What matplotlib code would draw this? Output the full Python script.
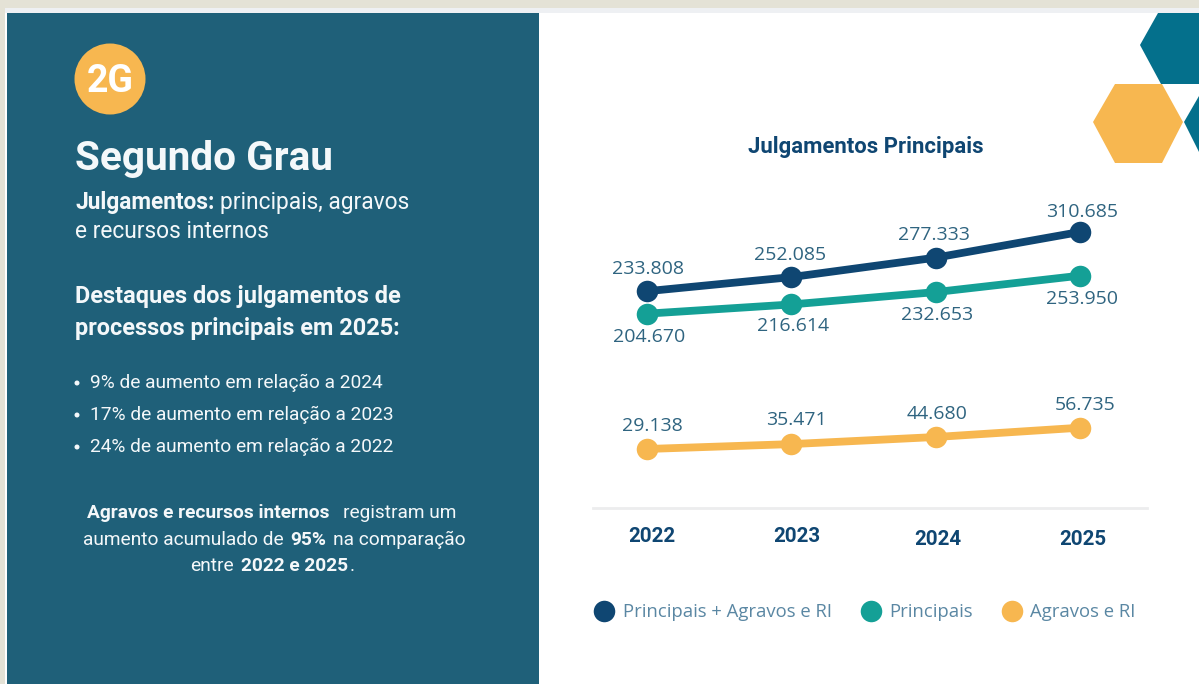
import matplotlib
matplotlib.use("Agg")
import matplotlib.pyplot as plt
from matplotlib.lines import Line2D
from matplotlib.patches import Circle, Polygon, Rectangle
from matplotlib.transforms import ScaledTranslation

# Data
years = [2022, 2023, 2024, 2025]
total = [233808, 252085, 277333, 310685]
principais = [204670, 216614, 232653, 253950]
agravos = [29138, 35471, 44680, 56735]

series_names = ["Principais + Agravos e RI", "Principais", "Agravos e RI"]
chart_title = "Julgamentos Principais"
bullets = [
    "9% de aumento em relação a 2024",
    "17% de aumento em relação a 2023",
    "24% de aumento em relação a 2022",
]

NAVY = "#0F4672"
GREEN = "#14A096"
ORANGE = "#F7B750"
PANEL = "#1F6079"
HEX_TEAL = "#04708C"
BEIGE = "#E4E2D6"
LABEL = "#2F6480"
LEGEND_TEXT = "#5A87A3"
WHITE = "#F4F8FA"

W, H = 1199, 684
plt.rcParams["font.family"] = ["Roboto", "DejaVu Sans"]

fig = plt.figure(figsize=(W / 100, H / 100), dpi=100, facecolor="white")

# Background layer in pixel coordinates, y pointing down
bg = fig.add_axes([0, 0, 1, 1])
bg.set_xlim(0, W)
bg.set_ylim(H, 0)
bg.axis("off")

bg.add_patch(Rectangle((0, 0), W, 8, color=BEIGE, lw=0))
bg.add_patch(Rectangle((0, 0), 5, H, color=BEIGE, lw=0))
bg.add_patch(Rectangle((5, 8), W, 5, color="#EEF0F3", lw=0))
bg.add_patch(Rectangle((7, 13), 532, H - 13, color=PANEL, lw=0))

bg.add_patch(Polygon([(1140, 45), (1158, 13), (1199, 13), (1199, 84), (1161, 84)], color=HEX_TEAL, lw=0))
bg.add_patch(Polygon([(1184, 122), (1199, 96), (1199, 152)], color=HEX_TEAL, lw=0))
bg.add_patch(Polygon([(1093, 122), (1115, 84), (1162, 84), (1183, 122), (1162, 163), (1115, 163)], color=ORANGE, lw=0))

bg.add_patch(Circle((110, 79), 35.5, color=ORANGE, lw=0))
bg.text(110, 81, "2G", color="white", fontsize=27, fontweight="bold", ha="center", va="center")

# Left panel text
bg.text(75, 159, "Segundo Grau", color=WHITE, fontsize=29.2, fontweight="bold", va="center")

bg.text(75, 202, "Julgamentos:", color=WHITE, fontsize=16.3, fontweight="bold", va="center")
bg.text(220, 202, "principais, agravos", color=WHITE, fontsize=16.4, va="center")
bg.text(75, 232, "e recursos internos", color=WHITE, fontsize=16.4, va="center")

bg.text(75, 297, "Destaques dos julgamentos de", color=WHITE, fontsize=16.9, fontweight="bold", va="center")
bg.text(75, 328, "processos principais em 2025:", color=WHITE, fontsize=16.9, fontweight="bold", va="center")

for y_px, line in zip([383, 415, 447], bullets):
    bg.add_patch(Circle((77, y_px), 2.5, color=WHITE, lw=0))
    bg.text(90, y_px, line, color=WHITE, fontsize=13.8, va="center")

para = [
    (513, [(87, "Agravos e recursos internos", "bold"), (343, "registram um", "normal")]),
    (540, [(83, "aumento acumulado de", "normal"), (290, "95%", "bold"), (333, "na comparação", "normal")]),
    (566, [(190, "entre", "normal"), (241, "2022 e 2025", "bold"), (350, ".", "normal")]),
]
for y_px, runs in para:
    for x_px, txt, weight in runs:
        bg.text(x_px, y_px, txt, color=WHITE, fontsize=13.8, fontweight=weight, va="center")

bg.text(866, 147, chart_title, color=NAVY, fontsize=15.9, fontweight="bold", ha="center", va="center")

# Chart, axes placed on the pixel positions of the reference
ax = fig.add_axes([593 / W, 1 - 508 / H, (1147 - 593) / W, (508 - 130) / H])
ax.patch.set_alpha(0)
ax.set_xlim(2021.626, 2025.464)
ax.set_ylim(-47400, 442900)

for values, color, name in zip([total, principais, agravos], [NAVY, GREEN, ORANGE], series_names):
    ax.plot(years, values, color=color, lw=5.6, marker="o", ms=15.5, mew=0, label=name, solid_capstyle="round")

# label offsets in pixels from each marker
total_off = [(1, 22), (-1, 22), (-2, 23), (2, 20)]
princ_off = [(2, -23), (2, -22), (1, -23), (2, -23)]
agravos_off = [(5, 23), (5, 24), (1, 23), (5, 23)]

for values, offsets in zip([total, principais, agravos], [total_off, princ_off, agravos_off]):
    for year, value, off in zip(years, values, offsets):
        ax.annotate(f"{value:,}".replace(",", "."), (year, value), xytext=off, textcoords="offset pixels",
                    ha="center", va="center", color=LABEL, fontsize=14, family=["Open Sans", "DejaVu Sans"])

for side in ["top", "right", "left"]:
    ax.spines[side].set_visible(False)
ax.spines["bottom"].set_color("#ECEDEE")
ax.spines["bottom"].set_linewidth(2)
ax.set_yticks([])
ax.set_xticks(years)
ax.set_xticklabels([str(y) for y in years], color=NAVY, fontsize=14.8, fontweight="bold")
ax.tick_params(axis="x", length=0, pad=14)

# the year labels are not quite centred under the points, 2024 and 2025 sit lower
shifts = [(4.5, 0), (5.5, 0), (1.8, -3), (3, -3)]
for label, (dx, dy) in zip(ax.get_xticklabels(), shifts):
    label.set_transform(label.get_transform() + ScaledTranslation(dx / 100, dy / 100, fig.dpi_scale_trans))

handles = [Line2D([], [], ls="none", marker="o", ms=15.5, mew=0, color=c) for c in [NAVY, GREEN, ORANGE]]
fig.legend(handles, series_names, loc="center left", bbox_to_anchor=(586 / W, 1 - 612 / H), ncols=3,
           frameon=False, labelcolor=LEGEND_TEXT, handletextpad=0, columnspacing=1.1,
           borderpad=0, borderaxespad=0, prop={"family": ["Open Sans", "DejaVu Sans"], "size": 13.3})

fig.savefig("out.png", dpi=100)
plt.close(fig)
